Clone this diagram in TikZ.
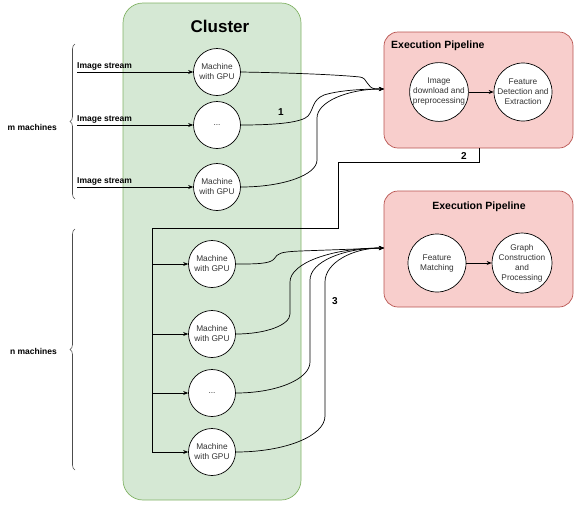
\documentclass[tikz,border=0pt]{standalone}
\usepackage{fontspec}
\setmainfont{Liberation Sans}
\usetikzlibrary{arrows.meta,decorations.pathreplacing}
\definecolor{clfill}{HTML}{D5E8D4}
\definecolor{cldraw}{HTML}{82B366}
\definecolor{ppfill}{HTML}{F8CECC}
\definecolor{ppdraw}{HTML}{B85450}
\begin{document}
\begin{tikzpicture}[x=1pt,y=-1pt,
  every node/.style={inner sep=0pt},
  arr/.style={draw=black,line width=0.7pt,-{Stealth[length=5pt,width=4pt]}},
  mach/.style={circle,draw=black,line width=0.7pt,fill=white,minimum size=47pt,align=center,text=black!80,font=\fontsize{8.3}{10}\selectfont},
  pcirc/.style={circle,draw=black,line width=0.7pt,fill=white,minimum size=58pt,align=center,text=black!80,font=\fontsize{8.3}{10}\selectfont},
  lbl/.style={font=\bfseries\fontsize{8.5}{10}\selectfont},
  num/.style={font=\bfseries\fontsize{10}{12}\selectfont},
  ptitle/.style={font=\bfseries\fontsize{10.5}{12}\selectfont},
  pipe/.style={draw=ppdraw,fill=ppfill,rounded corners=14pt,line width=0.7pt},
  brc/.style={draw=black!70,line width=0.6pt,decorate,decoration={brace,amplitude=5pt}}
]
\useasboundingbox (0,0) rectangle (577,504);
% cluster
\draw[draw=cldraw,fill=clfill,line width=0.7pt,rounded corners=20pt] (123,3) rectangle (301,500);
\node[font=\bfseries\fontsize{17}{20}\selectfont] (ctitle) at (220,26) {Cluster};
% pipelines
\draw[pipe] (384,32) rectangle (573,148);
\coordinate (p1s) at (479,148);
\node[ptitle,anchor=west] (t1) at (391,46) {Execution Pipeline};
\draw[pipe] (384,191) rectangle (573,307);
\node[ptitle] (t2) at (479,207) {Execution Pipeline};
\node[pcirc] (pa) at (439,92) {Image\\download and\\preprocessing};
\node[pcirc] (pb) at (523,92) {Feature\\Detection and\\Extraction};
\node[pcirc] (pc) at (437,263) {Feature\\Matching};
\node[pcirc] (pd) at (522,263) {Graph\\Construction\\and\\Processing};
\draw[arr] (pa) -- (pb);
\draw[arr] (pc) -- (pd);
% machines top
\node[mach] (m1) at (217,72) {Machine\\with GPU};
\node[mach] (m2) at (217,125) {...};
\node[mach] (m3) at (217,187) {Machine\\with GPU};
% machines bottom
\node[mach] (n1) at (212,264) {Machine\\with GPU};
\node[mach] (n2) at (212,334) {Machine\\with GPU};
\node[mach] (n3) at (212,393) {...};
\node[mach] (n4) at (212,452) {Machine\\with GPU};
% image streams
\foreach \m/\y in {m1/72,m2/125,m3/187}{
  \coordinate (s\m) at (77,\y);
  \node[lbl,anchor=south west] at (77,\y-2) {Image stream};
  \draw[arr] (s\m) -- (\m);
}
% braces
\draw[brc] (75,199) -- (75,44);
\node[lbl,anchor=east] (mlab) at (57,127) {m machines};
\draw[brc] (75,470) -- (75,229);
\node[lbl,anchor=east] (nlab) at (57,351) {n machines};
% targets
\coordinate (T1) at (384,89);
\coordinate (T2) at (384,248);
\draw[arr] (m1.east) .. controls (300,73) and (340,75) .. (360,77)
  .. controls (368,78) and (366,88) .. (376,89) -- (T1);
\draw[arr] (m2.east) .. controls (280,125) and (302,122) .. (308,116)
  .. controls (314,109) and (312,100) .. (324,95) .. controls (340,90) and (365,89) .. (T1);
\draw[arr] (m3.east) .. controls (283,187) and (317,175) .. (317,160) -- (317,118)
  .. controls (317,102) and (347,89) .. (T1);
\draw[arr] (n1.east) .. controls (255,264) and (270,264) .. (274,259)
  .. controls (278,253) and (280,252) .. (300,251) -- (T2);
\draw[arr] (n2.east) .. controls (266,334) and (290,325) .. (290,314) -- (290,282)
  .. controls (290,263) and (332,248) .. (T2);
\draw[arr] (n3.east) .. controls (277,393) and (310,379) .. (310,362) -- (310,280)
  .. controls (310,262) and (343,248) .. (T2);
\draw[arr] (n4.east) .. controls (285,452) and (325,436) .. (325,416) -- (325,282)
  .. controls (325,263) and (352,248) .. (T2);
% bus
\coordinate (bt) at (152,228);
\coordinate (bb) at (152,452);
\draw[line width=1pt] (p1s) -- (479,162) -- (338,162) -- (338,228) -- (bt) -- (bb);
\foreach \n in {n1,n2,n3,n4}{ \draw[arr] (\n -| bt) -- (\n); }
% numbers
\node[num] (l1) at (281,112) {1};
\node[num] (l2) at (464,156) {2};
\node[num] (l3) at (335,301) {3};
\end{tikzpicture}
\end{document}
